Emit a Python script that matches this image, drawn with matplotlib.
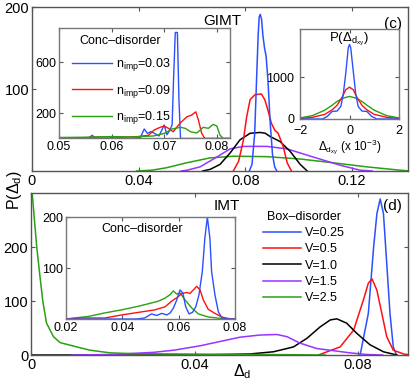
import matplotlib
matplotlib.use("Agg")
import matplotlib.pyplot as plt

plt.rcParams['font.family'] = ['Liberation Sans', 'DejaVu Sans']
plt.rcParams['mathtext.fontset'] = 'custom'
plt.rcParams['mathtext.rm'] = 'Liberation Sans'
plt.rcParams['mathtext.it'] = 'Liberation Sans'
plt.rcParams['xtick.direction'] = 'in'
plt.rcParams['ytick.direction'] = 'in'

BLUE, RED, BLACK, PURPLE, GREEN = '#2b50ff', '#ff1010', 'black', '#9933ff', '#2aa012'

# ---- panel (c): GIMT, box disorder ----
gb_x = [0.0815, 0.0825, 0.0835, 0.0842, 0.0848, 0.0852, 0.0856, 0.0861, 0.0866, 0.0872, 0.0878, 0.0885, 0.0893, 0.0902, 0.0910, 0.0918]
gb_y = [0, 8, 45, 110, 165, 188, 191, 185, 165, 150, 140, 110, 60, 20, 5, 0]
gr_x = [0.0755, 0.0775, 0.0793, 0.0805, 0.0818, 0.0836, 0.0860, 0.0873, 0.0885, 0.0898, 0.0910, 0.0923, 0.0942, 0.0957, 0.0973]
gr_y = [0, 12, 38, 66, 87, 93, 94, 87, 74, 58, 50, 46, 30, 10, 0]
gk_x = [0.0640, 0.0668, 0.0705, 0.0743, 0.0780, 0.0818, 0.0856, 0.0875, 0.0893, 0.0930, 0.0968, 0.1006, 0.1032]
gk_y = [0, 2, 8, 22, 38, 46, 47, 46, 42, 36, 24, 8, 0]
gp_x = [0.0560, 0.0582, 0.0630, 0.0693, 0.0743, 0.0793, 0.0881, 0.0956, 0.1055, 0.1156, 0.1230, 0.1276]
gp_y = [0, 1, 5, 17, 27, 30, 30, 27, 17, 7, 1, 0]
gg_x = [0.0393, 0.0450, 0.0505, 0.0580, 0.0668, 0.0755, 0.0880, 0.1006, 0.1130, 0.1256, 0.1380, 0.1418]
gg_y = [0, 1, 4, 10, 16, 18, 17.5, 14.6, 10, 5, 1, 0]

# ---- inset: GIMT, concentration disorder ----
cb_x = [0.0500, 0.0555, 0.0563, 0.0570, 0.0640, 0.0655, 0.0662, 0.0668, 0.0675, 0.0690, 0.0700, 0.0705, 0.0710, 0.0715, 0.0718, 0.0721, 0.0725, 0.0728, 0.0731, 0.0830]
cb_y = [0, 0, 25, 0, 0, 10, 75, 40, 55, 20, 106, 30, 60, 108, 500, 835, 835, 300, 0, 0]
cr_x = [0.0500, 0.0560, 0.0580, 0.0620, 0.0650, 0.0670, 0.0681, 0.0692, 0.0700, 0.0708, 0.0717, 0.0730, 0.0743, 0.0752, 0.0760, 0.0765, 0.0771, 0.0777, 0.0830]
cr_y = [0, 8, 12, 10, 15, 25, 67, 88, 98, 80, 53, 120, 171, 184, 210, 145, 43, 0, 0]
cg_x = [0.0500, 0.0550, 0.0600, 0.0640, 0.0680, 0.0700, 0.0715, 0.0731, 0.0740, 0.0750, 0.0762, 0.0774, 0.0784, 0.0793, 0.0800, 0.0806, 0.0812, 0.0830]
cg_y = [8, 10, 15, 12, 20, 40, 75, 88, 80, 53, 43, 88, 80, 111, 98, 27, 0, 0]
n_imp = ['0.03', '0.09', '0.15']

# ---- inset: P(Delta_dxy) ----
pb_x = [-2, -1.1, -0.9, -0.7, -0.5, -0.35, -0.25, -0.15, -0.05, 0, 0.05, 0.15, 0.25, 0.35, 0.5, 0.7, 0.9, 1.1, 2]
pb_y = [0, 0, 60, 180, 190, 300, 600, 1100, 1700, 1780, 1700, 1150, 600, 300, 190, 180, 60, 0, 0]
pr_x = [-2, -1.5, -1.0, -0.7, -0.5, -0.3, -0.15, 0, 0.15, 0.3, 0.5, 0.7, 1.0, 1.5, 2]
pr_y = [10, 40, 110, 220, 330, 520, 700, 760, 700, 520, 330, 220, 110, 40, 10]
pg_x = [-2, -1.5, -1.0, -0.7, -0.5, -0.25, 0, 0.25, 0.5, 0.7, 1.0, 1.5, 2]
pg_y = [25, 80, 210, 330, 420, 500, 540, 500, 420, 330, 210, 80, 25]

# ---- panel (d): IMT, box disorder ----
ib_x = [0.0805, 0.0825, 0.0838, 0.0846, 0.0854, 0.0862, 0.0870, 0.0878, 0.0886, 0.0894]
ib_y = [0, 77, 200, 262, 289, 262, 170, 77, 15, 0]
ir_x = [0.0703, 0.0756, 0.0789, 0.0813, 0.0825, 0.0834, 0.0846, 0.0858, 0.0870, 0.0886, 0.0911, 0.0927]
ir_y = [0, 15, 46, 102, 133, 141, 120, 77, 34, 9, 2, 0]
ik_x = [0.0, 0.0413, 0.0536, 0.0593, 0.0642, 0.0675, 0.0707, 0.0732, 0.0748, 0.0772, 0.0797, 0.0829, 0.0862, 0.0895]
ik_y = [0, 0, 2, 6, 15, 31, 52, 65, 67, 59, 40, 19, 6, 0]
ip_x = [0.0100, 0.0200, 0.0300, 0.0350, 0.0413, 0.0462, 0.0511, 0.0560, 0.0601, 0.0626, 0.0658, 0.0699, 0.0740, 0.0780, 0.0821, 0.0860]
ip_y = [0, 1, 5, 9, 17, 25, 33, 37, 38, 34, 22, 12, 8, 4, 1, 0]
ig_x = [0.0003, 0.0014, 0.0022, 0.0029, 0.0038, 0.0055, 0.0071, 0.0112, 0.0144, 0.0193, 0.0250, 0.0332, 0.0438, 0.0550, 0.0650, 0.0720]
ig_y = [299, 200, 145, 99, 59, 34, 23, 15, 9, 4, 2.5, 2, 1.5, 1, 0.5, 0]
V = ['0.25', '0.5', '1.0', '1.5', '2.5']

# ---- inset: IMT, concentration disorder ----
jb_x = [0.0200, 0.0450, 0.0479, 0.0504, 0.0522, 0.0540, 0.0558, 0.0570, 0.0581, 0.0593, 0.0605, 0.0615, 0.0625, 0.0637, 0.0649, 0.0661, 0.0672, 0.0684, 0.0693, 0.0702, 0.0711, 0.0717, 0.0729, 0.0741, 0.0753, 0.0764, 0.0800]
jb_y = [0, 0, 2, 10, 7, 11, 8, 12, 21, 37, 57, 51, 24, 10, 13, 24, 47, 93, 158, 200, 158, 93, 47, 14, 3, 0, 0]
jr_x = [0.0200, 0.0250, 0.0338, 0.0398, 0.0457, 0.0516, 0.0552, 0.0575, 0.0599, 0.0611, 0.0629, 0.0640, 0.0652, 0.0664, 0.0676, 0.0688, 0.0705, 0.0729, 0.0753, 0.0776, 0.0800]
jr_y = [0, 2, 2, 8, 13, 18, 24, 35, 44, 50, 52, 50, 57, 64, 57, 37, 19, 11, 4, 1, 0]
jg_x = [0.0200, 0.0230, 0.0279, 0.0338, 0.0398, 0.0457, 0.0493, 0.0528, 0.0552, 0.0570, 0.0581, 0.0593, 0.0605, 0.0622, 0.0646, 0.0670, 0.0705, 0.0753, 0.0800]
jg_y = [0, 2, 5, 12, 18, 25, 30, 35, 41, 48, 55, 49, 51, 38, 22, 10, 4, 1, 0]

fig = plt.figure(figsize=(4.15, 3.81), dpi=100)
FS = 10.5
FSI = 9


def frame(ax, color='#555555'):
    for s in ax.spines.values():
        s.set_color(color)
        s.set_linewidth(1.0)
    ax.tick_params(top=True, right=True, length=3, width=0.8, color='#555555', pad=2)


# panel (c)
ax1 = fig.add_axes([0.0771, 0.5512, 0.906, 0.4304])
for xs, ys, c in [(gg_x, gg_y, GREEN), (gp_x, gp_y, PURPLE), (gk_x, gk_y, BLACK), (gr_x, gr_y, RED), (gb_x, gb_y, BLUE)]:
    ax1.plot(xs, ys, color=c, lw=1.1)
ax1.set_xlim(0, 0.141)
ax1.set_ylim(0, 200)
ax1.set_xticks([0, 0.04, 0.08, 0.12])
ax1.set_xticklabels(['0', '0.04', '0.08', '0.12'])
ax1.set_yticks([100, 200])
ax1.tick_params(labelsize=FS)
frame(ax1)
ax1.text(0.505, 0.96, 'GIMT', transform=ax1.transAxes, ha='center', va='top', fontsize=FS + 0.5)
ax1.text(0.985, 0.94, '(c)', transform=ax1.transAxes, ha='right', va='top', fontsize=FS + 0.5)

# panel (d)
ax2 = fig.add_axes([0.0747, 0.0682, 0.9084, 0.4252])
lines = []
for xs, ys, c in [(ib_x, ib_y, BLUE), (ir_x, ir_y, RED), (ik_x, ik_y, BLACK), (ip_x, ip_y, PURPLE), (ig_x, ig_y, GREEN)]:
    l, = ax2.plot(xs, ys, color=c, lw=1.1)
    lines.append(l)
ax2.set_xlim(0, 0.0922)
ax2.set_ylim(0, 300)
ax2.set_xticks([0, 0.04, 0.08])
ax2.set_xticklabels(['0', '0.04', '0.08'])
ax2.set_yticks([0, 100, 200])
ax2.tick_params(labelsize=FS)
frame(ax2)
ax2.set_xlabel(r'$\Delta_{\rm d}$', fontsize=FS + 1, labelpad=-4)
ax2.xaxis.set_label_coords(0.56, -0.045)
ax2.text(0.52, 0.965, 'IMT', transform=ax2.transAxes, ha='center', va='top', fontsize=FS + 0.5)
ax2.text(0.985, 0.965, '(d)', transform=ax2.transAxes, ha='right', va='top', fontsize=FS + 0.5)
leg = ax2.legend(lines, ['V=' + v for v in V], loc='upper left', bbox_to_anchor=(0.6, 0.93),
                 frameon=False, fontsize=FSI, title='Box\u2013disorder', title_fontsize=FSI,
                 handlelength=3.0, handletextpad=0.3, labelspacing=0.35, borderpad=0)

fig.text(0.012, 0.5, r'P($\Delta_{\rm d}$)', rotation=90, ha='left', va='center', fontsize=FS + 1)

# inset: GIMT conc disorder
ax3 = fig.add_axes([0.1422, 0.6365, 0.412, 0.29])
lines3 = []
for xs, ys, c in [(cb_x, cb_y, BLUE), (cr_x, cr_y, RED), (cg_x, cg_y, GREEN)]:
    l, = ax3.plot(xs, ys, color=c, lw=1.0)
    lines3.append(l)
ax3.set_xlim(0.0505, 0.0825)
ax3.set_ylim(0, 870)
ax3.set_xticks([0.05, 0.06, 0.07, 0.08])
ax3.set_xticklabels(['0.05', '0.06', '0.07', '0.08'])
ax3.set_yticks([200, 600])
ax3.tick_params(labelsize=FSI)
frame(ax3, '#777777')
ax3.text(0.36, 0.88, 'Conc\u2013disorder', transform=ax3.transAxes, ha='center', va='center', fontsize=FSI)
ax3.legend(lines3, [r'n$_{\rm imp}$=' + n for n in n_imp], loc='upper left', bbox_to_anchor=(0.04, 0.8),
           frameon=False, fontsize=FSI, handlelength=3.2, handletextpad=0.3, labelspacing=0.75, borderpad=0)

# inset: P(Delta_dxy)
ax4 = fig.add_axes([0.7229, 0.6877, 0.2386, 0.2362])
for xs, ys, c in [(pg_x, pg_y, GREEN), (pr_x, pr_y, RED), (pb_x, pb_y, BLUE)]:
    ax4.plot(xs, ys, color=c, lw=1.0)
ax4.set_xlim(-2, 2)
ax4.set_ylim(0, 2150)
ax4.set_xticks([-2, 0, 2])
ax4.set_xticklabels(['\u22122', '0', '2'])
ax4.set_yticks([0, 1000])
ax4.tick_params(labelsize=FSI)
frame(ax4, '#777777')
ax4.tick_params(axis='x', pad=4)
ax4.tick_params(axis='y', pad=4)
ax4.text(0.5, 0.98, r'P($\Delta_{{\rm d}_{\rm xy}}$)', transform=ax4.transAxes, ha='center', va='top', fontsize=FSI + 0.5)
ax4.set_xlabel(r'$\Delta_{{\rm d}_{\rm xy}}$ (x 10$^{-3}$)', fontsize=FSI - 0.5, labelpad=1)

# inset: IMT conc disorder
ax5 = fig.add_axes([0.159, 0.1627, 0.4072, 0.2677])
for xs, ys, c in [(jg_x, jg_y, GREEN), (jr_x, jr_y, RED), (jb_x, jb_y, BLUE)]:
    ax5.plot(xs, ys, color=c, lw=1.0)
ax5.set_xlim(0.02, 0.08)
ax5.set_ylim(0, 200)
ax5.set_xticks([0.02, 0.04, 0.06, 0.08])
ax5.set_xticklabels(['0.02', '0.04', '0.06', '0.08'])
ax5.set_yticks([0, 100, 200])
ax5.set_yticklabels(['', '100', '200'])
ax5.tick_params(labelsize=FSI)
frame(ax5, '#777777')
ax5.text(0.45, 0.88, 'Conc\u2013disorder', transform=ax5.transAxes, ha='center', va='center', fontsize=FSI)

fig.savefig('out.png', dpi=100)
